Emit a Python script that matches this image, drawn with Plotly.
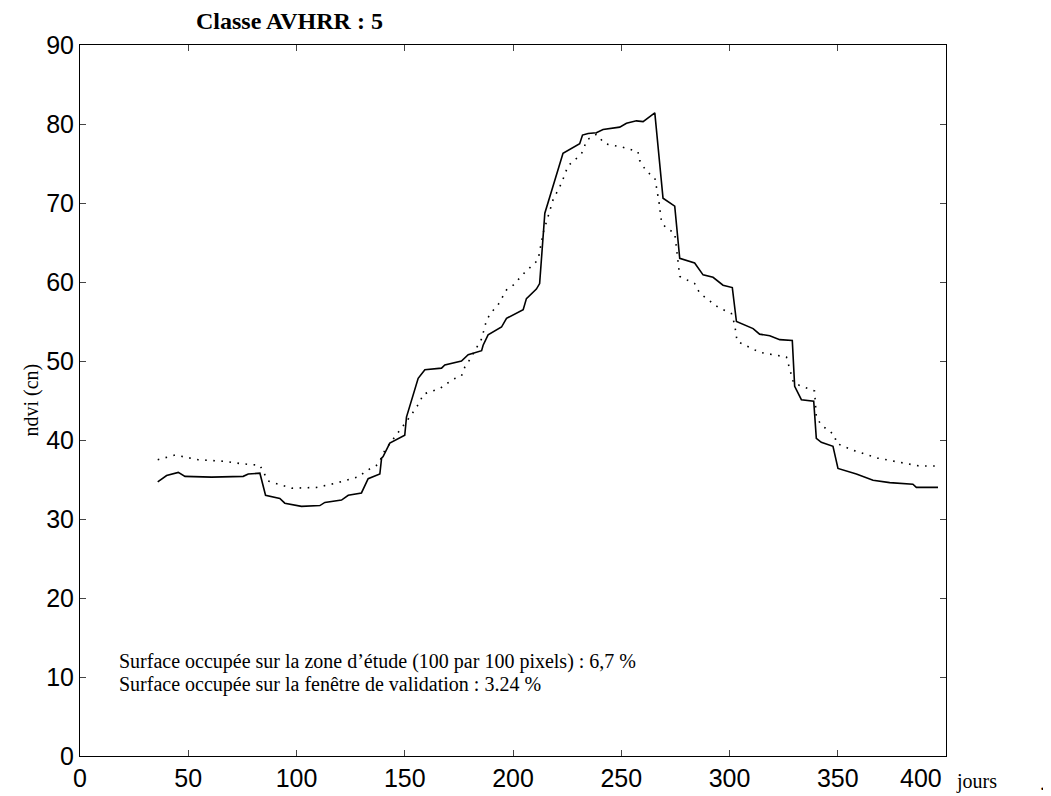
import plotly.graph_objects as go

# Solid curve (observed)
solid_days = [35.9, 40.0, 45.4, 48.5, 60.8, 75.4, 77.7, 83.1, 85.7, 92.3, 94.6, 102.3, 110.8,
              113.1, 120.8, 123.9, 130.0, 133.1, 138.5, 139.3, 140.0, 143.1, 150.0, 150.8,
              156.2, 159.3, 167.0, 168.5, 176.2, 179.3, 185.5, 186.2, 188.5, 194.7, 197.0,
              204.7, 206.2, 210.8, 212.3, 214.7, 223.1, 230.8, 232.1, 234.7, 238.5, 241.6,
              249.3, 252.4, 257.0, 260.1, 265.5, 269.3, 274.7, 277.0, 283.9, 287.8, 292.4,
              297.0, 301.3, 303.2, 310.9, 313.9, 318.6, 323.2, 329.0, 330.1, 333.2, 338.9,
              340.1, 342.4, 347.8, 350.1, 358.6, 366.3, 374.0, 384.7, 386.3, 396.3]
solid_ndvi = [34.7, 35.5, 35.9, 35.4, 35.3, 35.4, 35.7, 35.8, 33.0, 32.6, 32.0, 31.6, 31.7,
              32.1, 32.4, 33.0, 33.3, 35.1, 35.7, 37.7, 37.9, 39.6, 40.6, 42.9,
              47.8, 48.9, 49.1, 49.5, 50.0, 50.8, 51.3, 52.0, 53.3, 54.3, 55.4,
              56.5, 57.9, 59.1, 59.8, 68.7, 76.3, 77.5, 78.6, 78.8, 78.9, 79.3,
              79.6, 80.1, 80.4, 80.3, 81.4, 70.6, 69.6, 63.0, 62.4, 60.9, 60.6,
              59.6, 59.3, 55.0, 54.1, 53.4, 53.2, 52.7, 52.6, 46.8, 45.1, 44.9,
              40.2, 39.7, 39.2, 36.4, 35.7, 34.9, 34.6, 34.4, 34.0, 34.0]

# Dotted curve (reference)
dot_days = [35.9, 43.9, 54.6, 66.9, 74.6, 83.1, 86.9, 93.9, 97.7, 109.3, 117.7, 125.4, 129.3,
            131.6, 137.7, 140.8, 152.3, 157.0, 158.5, 166.2, 172.3, 176.2, 177.7, 180.1,
            185.5, 187.8, 190.1, 193.1, 197.0, 200.1, 205.4, 211.6, 213.1, 213.9, 218.5,
            222.4, 225.4, 231.6, 234.2, 238.5, 242.4, 250.1, 257.7, 258.5, 261.6, 265.5,
            266.2, 267.5, 268.6, 270.8, 274.7, 276.2, 277.0, 283.9, 286.2, 294.7, 300.9,
            302.4, 303.5, 313.9, 326.3, 329.6, 339.3, 340.1, 342.4, 348.6, 349.3, 357.0,
            368.6, 380.1, 387.8, 396.3]
dot_ndvi = [37.5, 38.1, 37.5, 37.3, 37.0, 36.8, 34.8, 34.2, 33.9, 34.0, 34.5, 35.1, 35.4,
            36.0, 36.9, 38.7, 42.9, 44.8, 45.8, 46.5, 47.7, 48.1, 49.2, 50.2,
            52.8, 55.2, 56.2, 57.1, 59.0, 59.6, 61.2, 62.8, 64.9, 66.2, 70.4,
            72.5, 74.7, 76.2, 78.0, 78.7, 77.5, 77.1, 76.5, 75.4, 74.0, 73.2,
            72.1, 70.0, 67.6, 66.8, 66.2, 62.5, 60.7, 59.8, 58.6, 56.8, 56.0,
            54.6, 52.5, 51.1, 50.5, 47.2, 46.2, 42.9, 41.9, 40.6, 39.6, 38.7,
            37.7, 37.1, 36.7, 36.7]

x_ticks = [0, 50, 100, 150, 200, 250, 300, 350, 400]
x_ticktext = ["0", "50", "100", "150", "200", "250", "300", "350", ""]
x_last_label = "400"
y_ticks = [0, 10, 20, 30, 40, 50, 60, 70, 80, 90]

title_text = "Classe AVHRR : 5"
y_title = "ndvi (cn)"
x_title = "jours"
note_lines = ["Surface occupée sur la zone d’étude (100 par 100 pixels) : 6,7 %",
              "Surface occupée sur la fenêtre de validation : 3.24 %"]

fig = go.Figure()
fig.add_trace(go.Scatter(x=solid_days, y=solid_ndvi, mode="lines",
                         line=dict(color="black", width=1.6), showlegend=False))
fig.add_trace(go.Scatter(x=dot_days, y=dot_ndvi, mode="lines",
                         line=dict(color="black", width=1.6, dash="1.6px,6.5px"),
                         showlegend=False))

serif = "Liberation Serif, Times New Roman, serif"
sans = "Liberation Sans, Arial, sans-serif"
TICK_SIZE = 25

fig.update_layout(
    width=1051, height=796,
    margin=dict(l=72, r=113, t=37, b=48),
    paper_bgcolor="white", plot_bgcolor="white",
    font=dict(family=sans, color="black"),
    xaxis=dict(range=[0, 400], tickvals=x_ticks, ticktext=x_ticktext, ticks="inside",
               ticklen=6, showline=True, linecolor="black", linewidth=1, mirror="ticks",
               showgrid=False, zeroline=False, automargin=False,
               tickfont=dict(size=TICK_SIZE, family=sans)),
    yaxis=dict(range=[0, 90], tickvals=y_ticks, ticks="inside", ticklen=6,
               showline=True, linecolor="black", linewidth=1, mirror="ticks",
               showgrid=False, zeroline=False, automargin=False,
               tickfont=dict(size=TICK_SIZE, family=sans)),
    annotations=[
        dict(text="<b>" + title_text + "</b>", x=(289 - 80) / 866, y=1.0,
             xref="paper", yref="paper", xanchor="center", yanchor="middle", yshift=24,
             showarrow=False, font=dict(family=serif, size=24)),
        dict(text=y_title, x=0.0, y=0.5, xref="paper", yref="paper", xanchor="center",
             yanchor="middle", xshift=-49, textangle=-90, showarrow=False,
             font=dict(family=serif, size=20)),
        dict(text=x_last_label, x=400, y=0, xref="x", yref="paper", xanchor="center",
             yanchor="middle", xshift=-25, yshift=-22, showarrow=False,
             font=dict(family=sans, size=TICK_SIZE)),
        dict(text=x_title, x=1.0, y=0, xref="paper", yref="paper", xanchor="left",
             yanchor="middle", xshift=8, yshift=-25, showarrow=False,
             font=dict(family=serif, size=20)),
        dict(text=".", x=1.0, y=0, xref="paper", yref="paper", xanchor="left",
             yanchor="middle", xshift=92, yshift=-27, showarrow=False,
             font=dict(family=serif, size=20)),
        dict(text=note_lines[0], x=17, y=11.9, xref="x", yref="y", xanchor="left",
             yanchor="middle", showarrow=False, font=dict(family=serif, size=20)),
        dict(text=note_lines[1], x=17, y=9.1, xref="x", yref="y", xanchor="left",
             yanchor="middle", showarrow=False, font=dict(family=serif, size=20)),
    ],
)

fig.write_html("out.html")
